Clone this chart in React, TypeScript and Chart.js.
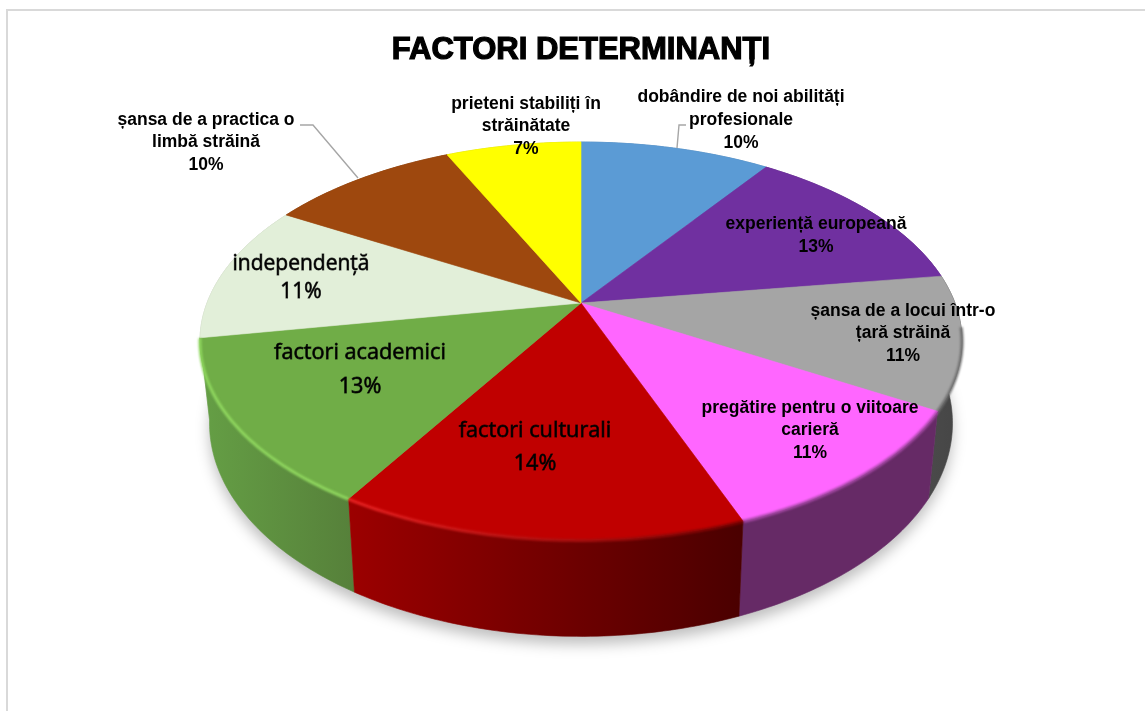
import React, { useEffect, useRef } from "react";
import { Chart, registerables } from "chart.js";

Chart.register(...registerables);

const TITLE = "FACTORI DETERMINANȚI";

const categories: string[][] = [
  ["dobândire de noi abilități", "profesionale"],
  ["experiență europeană"],
  ["șansa de a locui într-o", "țară străină"],
  ["pregătire pentru o viitoare", "carieră"],
  ["factori culturali"],
  ["factori academici"],
  ["independență"],
  ["șansa de a practica o", "limbă străină"],
  ["prieteni stabiliți în", "străinătate"],
];
const values = [9.7, 13.0, 10.8, 10.7, 14.49, 13.49, 11.2, 9.7, 6.9];
const topColors = ["#5b9bd5", "#7030a0", "#a5a5a5", "#ff66ff", "#c00000", "#70ad47", "#e2efd9", "#9e480e", "#ffff00"];
const wallStart = ["#4a7fae", "#5a2880", "#4a4a4a", "#662a66", "#9c0000", "#659f45", "#b8c4b0", "#7d390b", "#c8c800"];
const wallEnd = ["#4a7fae", "#5a2880", "#454545", "#662a66", "#4a0000", "#56803a", "#b8c4b0", "#7d390b", "#c8c800"];
const bevelStart = [null, null, "#6e6e6e", "#a848a8", "#ea2222", "#8fd75e", null, null, null];
const bevelEnd = [null, null, "#6e6e6e", "#a848a8", "#7a0000", "#8fd75e", null, null, null];

// label layout: centre x, y of each line centre, font
const SMALL = 'bold 17.5px "Liberation Sans"';
const LARGE = '21.7px "Open Sans"';
const labelBoxes = [
  { x: 741, y: 97, gap: 23, font: SMALL, stroke: 0 },
  { x: 816, y: 224, gap: 23, font: SMALL, stroke: 0 },
  { x: 903, y: 311, gap: 22.5, font: SMALL, stroke: 0 },
  { x: 810, y: 408, gap: 22.5, font: SMALL, stroke: 0 },
  { x: 535, y: 431, gap: 33, font: LARGE, stroke: 0.8 },
  { x: 360, y: 353, gap: 34, font: LARGE, stroke: 0.8 },
  { x: 301, y: 264, gap: 28, font: '21px "Open Sans"', stroke: 0.8 },
  { x: 206, y: 120, gap: 22.5, font: SMALL, stroke: 0 },
  { x: 526, y: 104, gap: 22.5, font: SMALL, stroke: 0 },
];
const leaderLines = [
  [[686, 125], [679, 125], [677, 148]],
  [[300, 125], [313, 125], [358, 178]],
];

// perspective of the pie disc
const CX = 581, CY = 303, A = 374, B = 191.7, P = -0.191;
const project = (t: number) => {
  const x = Math.cos(t), y = Math.sin(t), w = 1 + P * y;
  return [CX + (A * x) / w, CY + (B * y) / w];
};
const lower = (pt: number[]) => [
  CX + (pt[0] - CX) * 0.975,
  pt[1] + 87 + (pt[1] - 408) * 0.0714,
];
const samples = (a: number, b: number) => {
  const n = Math.max(2, Math.ceil(Math.abs(b - a) / 0.015));
  const out: number[] = [];
  for (let i = 0; i <= n; i++) out.push(a + ((b - a) * i) / n);
  return out;
};

const pie3d = {
  id: "pie3d",
  beforeDraw(chart: any) {
    const c = chart.ctx;
    c.save();
    c.fillStyle = "#ffffff";
    c.fillRect(0, 0, chart.width, chart.height);
    c.fillStyle = "#d9d9d9";
    c.fillRect(6, 9, chart.width - 6, 2);
    c.fillRect(6, 9, 2, chart.height - 9);
    c.restore();
  },
  beforeDatasetDraw(chart: any) {
    const c = chart.ctx;
    const arcs = chart.getDatasetMeta(0).data;
    c.save();
    // soft shadow beneath the disc
    c.save();
    c.filter = "blur(7px)";
    c.fillStyle = "rgba(0,0,0,0.25)";
    c.beginPath();
    samples(0, Math.PI * 2).forEach((t, i) => {
      const p = lower(project(t));
      const xx = p[0], yy = p[1] + 8;
      i ? c.lineTo(xx, yy) : c.moveTo(xx, yy);
    });
    c.closePath();
    c.fill();
    c.restore();

    // side walls, back to front
    const order = arcs
      .map((a: any, i: number) => ({ a, i }))
      .sort((m: any, n: any) => Math.sin((m.a.startAngle + m.a.endAngle) / 2) - Math.sin((n.a.startAngle + n.a.endAngle) / 2));
    order.forEach(({ a, i }: any) => {
      const ts = samples(a.startAngle, a.endAngle);
      const top = ts.map(project);
      const bot = top.map(lower).reverse();
      const xs = top.concat(bot).map((p: number[]) => p[0]);
      const g = c.createLinearGradient(Math.min(...xs), 0, Math.max(...xs), 0);
      g.addColorStop(0, wallStart[i]);
      g.addColorStop(1, wallEnd[i]);
      c.fillStyle = g;
      c.strokeStyle = g;
      c.lineWidth = 0.6;
      c.beginPath();
      top.concat(bot).forEach((p: number[], k: number) => (k ? c.lineTo(p[0], p[1]) : c.moveTo(p[0], p[1])));
      c.closePath();
      c.fill();
      c.stroke();
    });

    // top surface
    arcs.forEach((a: any) => {
      c.fillStyle = a.options.backgroundColor;
      c.strokeStyle = a.options.backgroundColor;
      c.lineWidth = 0.6;
      c.beginPath();
      c.moveTo(CX, CY);
      samples(a.startAngle, a.endAngle).map(project).forEach((p: number[]) => c.lineTo(p[0], p[1]));
      c.closePath();
      c.fill();
      c.stroke();
    });

    // bevel along the visible front rim
    arcs.forEach((a: any, i: number) => {
      if (!bevelStart[i]) return;
      const front = samples(a.startAngle, a.endAngle)
        .filter((t) => Math.sin(t) > 0.12)
        .map(project);
      if (front.length < 2) return;
      const g = c.createLinearGradient(front[front.length - 1][0], 0, front[0][0], 0);
      g.addColorStop(0, bevelStart[i]!);
      g.addColorStop(1, bevelEnd[i]!);
      c.save();
      c.filter = "blur(1px)";
      c.strokeStyle = g;
      c.lineWidth = 3;
      c.beginPath();
      front.forEach((p: number[], k: number) => (k ? c.lineTo(p[0], p[1] + 0.5) : c.moveTo(p[0], p[1] + 0.5)));
      c.stroke();
      c.restore();
    });
    c.restore();
    return false;
  },
  afterDraw(chart: any) {
    const c = chart.ctx;
    const total = values.reduce((s, v) => s + v, 0);
    c.save();
    c.strokeStyle = "#a6a6a6";
    c.lineWidth = 1.4;
    leaderLines.forEach((l) => {
      c.beginPath();
      l.forEach((p, k) => (k ? c.lineTo(p[0], p[1]) : c.moveTo(p[0], p[1])));
      c.stroke();
    });
    c.fillStyle = "#000000";
    c.strokeStyle = "rgba(0,0,0,0.75)";
    c.textAlign = "center";
    c.textBaseline = "middle";
    categories.forEach((lines, i) => {
      const box = labelBoxes[i];
      c.font = box.font;
      c.lineWidth = box.stroke;
      lines.concat(`${Math.round((values[i] / total) * 100)}%`).forEach((txt, k) => {
        const yy = box.y + k * box.gap;
        c.fillText(txt, box.x, yy);
        if (box.stroke) c.strokeText(txt, box.x, yy);
      });
    });
    // thicken the title, which the library draws
    const tb = chart.titleBlock;
    c.font = 'bold 31px "Liberation Sans"';
    c.strokeStyle = "#000000";
    c.lineWidth = 1.2;
    c.strokeText(TITLE, tb.left + tb.width / 2, tb.top + 18.6);
    c.restore();
  },
};

export default function App() {
  const ref = useRef<HTMLCanvasElement>(null);
  useEffect(() => {
    const chart = new Chart(ref.current!, {
      type: "pie",
      data: {
        labels: categories,
        datasets: [{ data: values, backgroundColor: topColors, borderWidth: 0 }],
      },
      options: {
        animation: false,
        responsive: false,
        events: [],
        layout: { padding: { top: 32, left: 17 } },
        plugins: {
          legend: { display: false },
          tooltip: { enabled: false },
          title: {
            display: true,
            text: TITLE,
            color: "#000000",
            align: "center",
            padding: { top: 0, bottom: 10 },
            font: { family: '"Liberation Sans"', size: 31, weight: "bold" },
          },
        },
      },
      plugins: [pie3d],
    } as any);
    return () => chart.destroy();
  }, []);
  return (
    <div style={{ position: "fixed", left: 0, top: 0 }}>
      <canvas ref={ref} width={1145} height={711} style={{ display: "block" }} />
    </div>
  );
}
